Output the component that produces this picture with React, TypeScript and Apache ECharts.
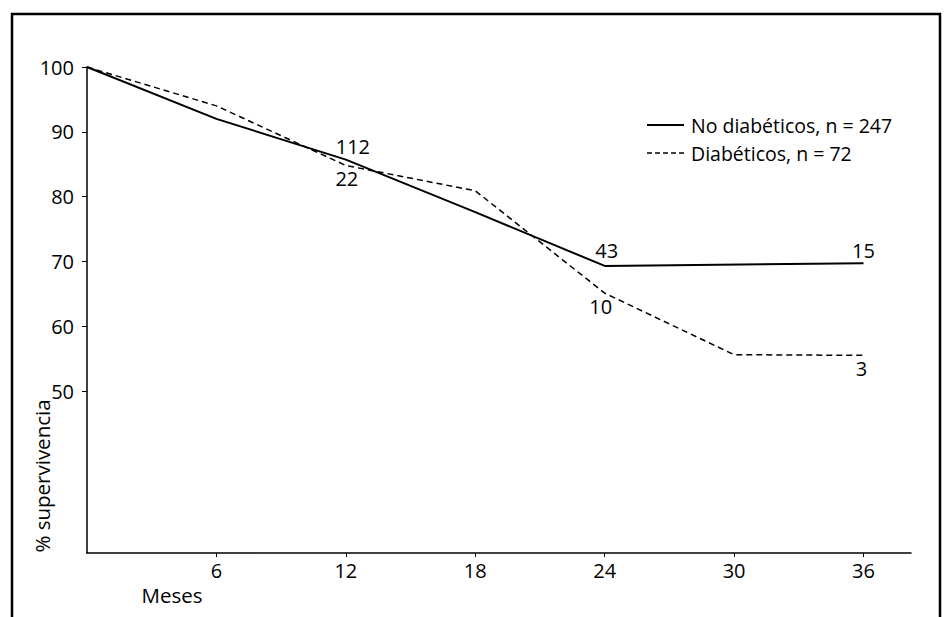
import React, { useEffect, useRef } from "react";
import * as echarts from "echarts";

// Months of follow-up
const months = [0, 6, 12, 18, 24, 30, 36];
// % survival, non-diabetic (solid) — no point at 30 months
const noDiabValues: (number | null)[] = [100, 92, 85.7, 77.6, 69.3, null, 69.7];
// % survival, diabetic (dashed)
const diabValues: (number | null)[] = [100, 94, 84.8, 80.9, 65.1, 55.6, 55.5];
// numbers at risk shown next to the curves
const noDiabAtRisk: (string | null)[] = [null, null, "112", null, "43", null, "15"];
const diabAtRisk: (string | null)[] = [null, null, "22", null, "10", null, "3"];
const xTicks = [6, 12, 18, 24, 30, 36];
const yTicks = [50, 60, 70, 80, 90, 100];
const seriesNames = ["No diabéticos, n = 247", "Diabéticos, n = 72"];
const yAxisTitle = "% supervivencia";
const xAxisTitle = "Meses";

const FONT = "Open Sans";

export default function App() {
  const ref = useRef<HTMLDivElement>(null);
  useEffect(() => {
    if (!ref.current) return;
    const chart = echarts.init(ref.current, null, { renderer: "svg" });

    const build = (
      vals: (number | null)[],
      risk: (string | null)[],
      pos: "top" | "bottom",
      offsets: Record<number, [number, number]>
    ) =>
      months
        .map((m, i) => {
          if (vals[i] === null) return null;
          const item: any = { value: [m, vals[i]] };
          if (risk[i]) {
            item.label = {
              show: true,
              formatter: risk[i],
              position: pos,
              distance: 3,
              offset: offsets[m] || [0, 0],
              color: "#000",
              fontSize: 20,
              fontFamily: FONT,
            };
          }
          return item;
        })
        .filter((d) => d !== null);

    const legendText = (text: string, y: number) => ({
      type: "text",
      x: 691,
      y,
      style: {
        text,
        fill: "#000",
        fontSize: 19.5,
        lineHeight: 21,
        fontFamily: FONT,
        textVerticalAlign: "middle",
      },
    });

    chart.setOption({
      animation: false,
      backgroundColor: "#fff",
      grid: { left: 87, top: 67, width: 824, height: 486, containLabel: false },
      xAxis: {
        type: "value",
        min: 0,
        max: 38.2,
        axisLine: { show: true, lineStyle: { color: "#000", width: 1.5 } },
        axisTick: { show: true, length: 4, customValues: xTicks, lineStyle: { color: "#000" } },
        axisLabel: {
          customValues: xTicks,
          color: "#000",
          fontSize: 20,
          fontFamily: FONT,
          margin: 7,
        },
        splitLine: { show: false },
      },
      yAxis: {
        type: "value",
        min: 25,
        max: 100,
        axisLine: { show: true, lineStyle: { color: "#000", width: 1.5 } },
        axisTick: { show: true, length: 5, customValues: yTicks, lineStyle: { color: "#000" } },
        axisLabel: {
          customValues: yTicks,
          color: "#000",
          fontSize: 20,
          fontFamily: FONT,
          margin: 13,
        },
        splitLine: { show: false },
      },
      series: [
        {
          name: seriesNames[0],
          type: "line",
          data: build(noDiabValues, noDiabAtRisk, "top", { 12: [7, 0], 24: [2, -2], 36: [0, 0] }),
          symbol: "circle",
          symbolSize: 0,
          showSymbol: true,
          connectNulls: true,
          lineStyle: { color: "#000", width: 2, type: "solid" },
          itemStyle: { color: "#000" },
          z: 3,
        },
        {
          name: seriesNames[1],
          type: "line",
          data: build(diabValues, diabAtRisk, "bottom", { 12: [1, 0], 24: [-4, 0], 36: [-2, 0] }),
          symbol: "circle",
          symbolSize: 0,
          showSymbol: true,
          lineStyle: { color: "#000", width: 1.5, type: [6, 4] },
          itemStyle: { color: "#000" },
          z: 2,
        },
      ],
      graphic: [
        {
          type: "rect",
          shape: { x: 12, y: 14, width: 928, height: 640 },
          style: { fill: "none", stroke: "#000", lineWidth: 2.5 },
          silent: true,
        },
        {
          type: "line",
          shape: { x1: 647, y1: 125, x2: 684, y2: 125 },
          style: { stroke: "#000", lineWidth: 2 },
        },
        legendText(seriesNames[0], 125),
        {
          type: "line",
          shape: { x1: 647, y1: 153, x2: 684, y2: 153 },
          style: { stroke: "#000", lineWidth: 1.5, lineDash: [5, 3] },
        },
        legendText(seriesNames[1], 153),
        {
          type: "text",
          x: 42,
          y: 476,
          rotation: Math.PI / 2,
          style: {
            text: yAxisTitle,
            fill: "#000",
            fontSize: 20.5,
            fontFamily: FONT,
            textAlign: "center",
            textVerticalAlign: "middle",
          },
        },
        {
          type: "text",
          x: 172,
          y: 595,
          style: {
            text: xAxisTitle,
            fill: "#000",
            fontSize: 20.5,
            fontFamily: FONT,
            textAlign: "center",
            textVerticalAlign: "middle",
          },
        },
      ],
    });
    return () => chart.dispose();
  }, []);
  return (
    <div
      ref={ref}
      style={{ position: "fixed", left: 0, top: 0, width: 947, height: 617, background: "#fff" }}
    />
  );
}
